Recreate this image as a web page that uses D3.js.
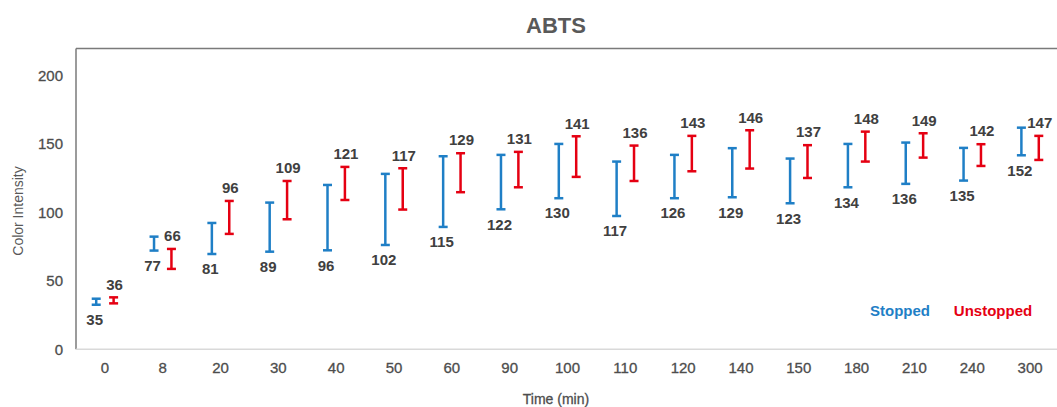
<!DOCTYPE html>
<html>
<head>
<meta charset="utf-8">
<script src="https://cdn.jsdelivr.net/npm/d3@7"></script>
<style>
  body { margin: 0; background: #fff; }
  svg { font-family: "Liberation Sans", Arial, sans-serif; }
</style>
</head>
<body>
<div class="chart"></div>
<script>
// time points (min)
const categories = ["0", "8", "20", "30", "40", "50", "60", "90", "100", "110", "120", "140", "150", "180", "210", "240", "300"];

// Stopped: range low/high and label
const stoppedLow  = [32.6, 72.2, 69.7, 71.4, 72.4, 76.3, 89.5, 102.4, 110.5, 97.5, 110.5, 111.2, 106.8, 118.5, 121.0, 123.4, 141.9];
const stoppedHigh = [37.0, 82.4, 92.4, 107.3, 120.2, 128.3, 141.2, 142.2, 150.2, 137.3, 142.2, 147.1, 139.5, 150.2, 151.2, 147.3, 162.1];
const stoppedLabel = [35, 77, 81, 89, 96, 102, 115, 122, 130, 117, 126, 129, 123, 134, 136, 135, 152];

// Unstopped
const unstoppedLow  = [33.6, 58.8, 84.4, 95.1, 109.2, 102.2, 114.9, 118.5, 126.1, 123.1, 130.2, 132.2, 125.3, 137.3, 140.2, 134.1, 138.5];
const unstoppedHigh = [38.0, 73.4, 108.5, 123.1, 133.4, 132.4, 143.4, 144.4, 155.8, 149.0, 156.1, 160.2, 149.3, 159.2, 158.0, 150.0, 156.1];
const unstoppedLabel = [36, 66, 96, 109, 121, 117, 129, 131, 141, 136, 143, 146, 137, 148, 149, 142, 147];

const yTicks = [0, 50, 100, 150, 200];

const width = 1057, height = 407;
const margin = {top: 48.5, right: -2, bottom: 57.7, left: 76};

const blue = "#1f7fc6", red = "#e50012";
const textCol = "#404040";

const svg = d3.select(".chart").append("svg")
    .attr("width", width)
    .attr("height", height);

const x = d3.scaleBand()
    .domain(categories)
    .range([margin.left, width - margin.right]);

const y = d3.scaleLinear()
    .domain([0, 220])
    .range([height - margin.bottom, margin.top]);

// frame: left and top lines
svg.append("line")
    .attr("x1", margin.left).attr("x2", width)
    .attr("y1", margin.top).attr("y2", margin.top)
    .attr("stroke", "#7a7a7a").attr("stroke-width", 1.5);
svg.append("line")
    .attr("x1", margin.left).attr("x2", margin.left)
    .attr("y1", margin.top).attr("y2", y(0))
    .attr("stroke", "#7a7a7a").attr("stroke-width", 1.5);

// bottom axis line
svg.append("line")
    .attr("x1", margin.left).attr("x2", width)
    .attr("y1", y(0)).attr("y2", y(0))
    .attr("stroke", "#d9d9d9").attr("stroke-width", 1.5);

// y tick labels
svg.selectAll(".ytick")
    .data(yTicks)
    .enter()
    .append("text")
    .attr("x", 63)
    .attr("y", d => y(d))
    .attr("dy", "0.35em")
    .attr("text-anchor", "end")
    .style("font-size", "15px")
    .style("fill", "#4d4d4d")
    .style("stroke", "#4d4d4d")
    .style("stroke-width", "0.3px")
    .text(d => d);

// x tick labels
svg.selectAll(".xtick")
    .data(categories)
    .enter()
    .append("text")
    .attr("x", d => x(d) + x.bandwidth() / 2)
    .attr("y", 368)
    .attr("dy", "0.35em")
    .attr("text-anchor", "middle")
    .style("font-size", "15px")
    .style("fill", "#4d4d4d")
    .style("stroke", "#4d4d4d")
    .style("stroke-width", "0.3px")
    .text(d => d);

// titles
svg.append("text")
    .attr("x", 556).attr("y", 25)
    .attr("dy", "0.35em")
    .attr("text-anchor", "middle")
    .style("font-size", "22px")
    .style("font-weight", "bold")
    .style("fill", "#595959")
    .text("ABTS");

svg.append("text")
    .attr("x", 556).attr("y", 399)
    .attr("dy", "0.35em")
    .attr("text-anchor", "middle")
    .style("font-size", "14px")
    .style("fill", "#4d4d4d")
    .style("stroke", "#4d4d4d")
    .style("stroke-width", "0.3px")
    .text("Time (min)");

svg.append("text")
    .attr("transform", "translate(18,211) rotate(-90)")
    .attr("dy", "0.35em")
    .attr("text-anchor", "middle")
    .style("font-size", "14px")
    .style("fill", "#595959")
    .text("Color Intensity");

// error-bar series
function drawSeries(low, high, labels, color, offset, labelAbove) {
    const g = svg.append("g");
    const cx = (d, i) => x(categories[i]) + x.bandwidth() / 2 + offset;
    const capHalf = 4.5;

    g.selectAll(".stem")
        .data(low)
        .enter()
        .append("line")
        .attr("x1", cx).attr("x2", cx)
        .attr("y1", (d, i) => y(low[i]))
        .attr("y2", (d, i) => y(high[i]))
        .attr("stroke", color).attr("stroke-width", 2.5);

    [low, high].forEach(arr => {
        g.selectAll(null)
            .data(arr)
            .enter()
            .append("line")
            .attr("x1", (d, i) => cx(d, i) - capHalf)
            .attr("x2", (d, i) => cx(d, i) + capHalf)
            .attr("y1", d => y(d))
            .attr("y2", d => y(d))
            .attr("stroke", color).attr("stroke-width", 2.5);
    });

    g.selectAll(".lbl")
        .data(labels)
        .enter()
        .append("text")
        .attr("x", (d, i) => cx(d, i) + (labelAbove ? 1 : -1.5))
        .attr("y", (d, i) => labelAbove ? y(high[i]) - 13 : y(low[i]) + 15)
        .attr("dy", "0.35em")
        .attr("text-anchor", "middle")
        .style("font-size", "15px")
        .style("font-weight", "bold")
        .style("fill", textCol)
        .text(d => d);
}

drawSeries(stoppedLow, stoppedHigh, stoppedLabel, blue, -8.7, false);
drawSeries(unstoppedLow, unstoppedHigh, unstoppedLabel, red, 8.7, true);

// legend
svg.append("text")
    .attr("x", 900).attr("y", 311)
    .attr("dy", "0.35em")
    .attr("text-anchor", "middle")
    .style("font-size", "15px")
    .style("font-weight", "bold")
    .style("fill", blue)
    .text("Stopped");
svg.append("text")
    .attr("x", 993).attr("y", 311)
    .attr("dy", "0.35em")
    .attr("text-anchor", "middle")
    .style("font-size", "15px")
    .style("font-weight", "bold")
    .style("fill", red)
    .text("Unstopped");
</script>
</body>
</html>
